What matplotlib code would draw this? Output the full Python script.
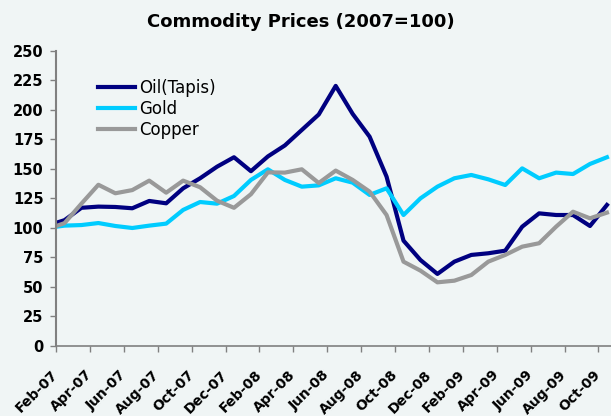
import matplotlib
matplotlib.use("Agg")
import matplotlib.pyplot as plt
import numpy as np

# monthly index values, Jan-07 .. Oct-09 (2007 = 100)
months = ["Jan-07", "Feb-07", "Mar-07", "Apr-07", "May-07", "Jun-07", "Jul-07", "Aug-07",
          "Sep-07", "Oct-07", "Nov-07", "Dec-07",
          "Jan-08", "Feb-08", "Mar-08", "Apr-08", "May-08", "Jun-08", "Jul-08", "Aug-08",
          "Sep-08", "Oct-08", "Nov-08", "Dec-08",
          "Jan-09", "Feb-09", "Mar-09", "Apr-09", "May-09", "Jun-09", "Jul-09", "Aug-09",
          "Sep-09", "Oct-09"]
oil = [102, 106.5, 117, 118, 117.7, 116.6, 122.8, 120.8, 133.5, 142, 151.8, 159.8,
       148, 160.5, 169.8, 182.9, 196, 220.2, 196.5, 177.2, 143.4, 89.2, 72.8, 61,
       71.4, 77.1, 78.5, 80.7, 101, 112.3, 110.9, 110.9, 101.6, 119.4]
gold = [100, 101.9, 102.4, 104.1, 101.6, 99.9, 101.9, 103.6, 115.2, 121.9, 120.5, 127,
        140.6, 149.6, 140.6, 134.9, 136, 142, 138.3, 127.9, 133.5, 110.9, 125, 134.9,
        142, 144.8, 141.1, 136.3, 150.4, 142, 146.8, 145.6, 154.1, 159.8]
copper = [99, 104, 120.5, 136.5, 129.3, 132, 140, 129.8, 140, 134.4, 123, 117,
          128.5, 147, 146.8, 149.6, 138, 148.5, 140.6, 130.7, 110.9, 71.4, 63.8, 53.9,
          55.3, 60.1, 71.4, 77.1, 84.1, 87, 101, 113.7, 108.1, 112.9]

tick_labels = ["Feb-07", "Apr-07", "Jun-07", "Aug-07", "Oct-07", "Dec-07", "Feb-08",
               "Apr-08", "Jun-08", "Aug-08", "Oct-08", "Dec-08", "Feb-09", "Apr-09",
               "Jun-09", "Aug-09", "Oct-09"]

bg = "#F0F5F5"
axis_grey = "#808080"

# x in months, Feb-07 tick at 0, points plotted mid-month
x = np.arange(len(months)) - 0.5

fig = plt.figure(figsize=(6.11, 4.16), dpi=100, facecolor=bg)
ax = fig.add_axes([56 / 611, 70 / 416, 555 / 611, 295.3 / 416])
ax.set_facecolor(bg)

ax.plot(x, oil, color="#000080", lw=3, label="Oil(Tapis)")
ax.plot(x, gold, color="#00CCFF", lw=3, label="Gold")
ax.plot(x, copper, color="#999999", lw=3, label="Copper")

ax.set_xlim(0, 32.74)
ax.set_ylim(0, 250)
ax.set_yticks(np.arange(0, 251, 25))
ax.set_xticks(np.arange(0, 2 * len(tick_labels), 2))
ax.set_xticklabels(tick_labels)

for s in ["top", "right"]:
    ax.spines[s].set_visible(False)
ax.spines["left"].set_color(axis_grey)
ax.spines["left"].set_linewidth(1.5)
ax.spines["bottom"].set_color(axis_grey)
ax.spines["bottom"].set_linewidth(1.2)

ax.tick_params(axis="y", length=4, width=1, color=axis_grey, pad=5,
               labelsize=10.5)
ax.tick_params(axis="x", length=4, width=1, color=axis_grey, pad=15,
               labelsize=10)
for lab in ax.get_yticklabels():
    lab.set_fontweight("bold")
for lab in ax.get_xticklabels():
    lab.set_fontweight("bold")
    lab.set_rotation(45)
    lab.set_ha("right")
    lab.set_va("center")
    lab.set_rotation_mode("anchor")

fig.text(0.493, 1 - 22 / 416, "Commodity Prices (2007=100)", ha="center", va="center",
         fontsize=13, fontweight="bold")

ax.legend(loc="upper left", bbox_to_anchor=(98 / 611, 1 - 79 / 416),
          bbox_transform=fig.transFigure, frameon=False, fontsize=12,
          handlelength=2.2, handletextpad=0.25, labelspacing=0.18,
          borderpad=0, borderaxespad=0)

fig.savefig("out.png", dpi=100, facecolor=bg)
